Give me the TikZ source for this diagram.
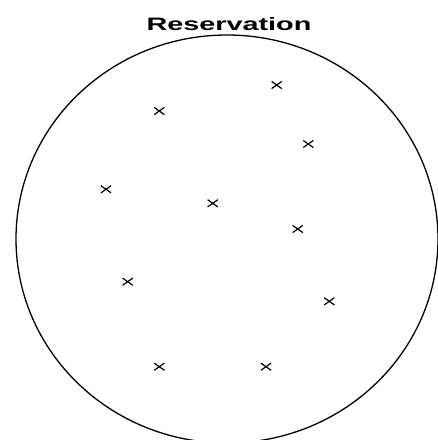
\documentclass[tikz,border=0pt]{standalone}
\usepackage{fontspec}
\usepackage{graphicx}
\setmainfont{Liberation Sans}
\usetikzlibrary{shapes.misc}
\tikzset{
  mark x/.style={cross out, draw=black, line width=1.2pt, minimum width=9pt, minimum height=6pt, inner sep=0pt},
  ring/.style={draw=black, line width=1.3pt},
  title/.style={font=\fontsize{18pt}{20pt}\selectfont\bfseries, inner sep=0pt, anchor=base}
}
\begin{document}
\begin{tikzpicture}[x=1pt,y=-1pt]
\useasboundingbox (0,0) rectangle (438,440);
\clip (0,0) rectangle (438,440);
\fill[white] (0,0) rectangle (438,440);
\node[title] (t) at (229,30) {\scalebox{1.6}[1]{Reservation}};
\draw[ring] (227,239) ellipse [x radius=211, y radius=204];
\node[mark x] (m1) at (276.7,85) {};
\node[mark x] (m2) at (159.3,111) {};
\node[mark x] (m3) at (308.3,144) {};
\node[mark x] (m4) at (106,189.3) {};
\node[mark x] (m5) at (212.7,203.3) {};
\node[mark x] (m6) at (297.7,229) {};
\node[mark x] (m7) at (127.7,281.7) {};
\node[mark x] (m8) at (329.3,301.3) {};
\node[mark x] (m9) at (159.3,366.7) {};
\node[mark x] (m10) at (266,366.7) {};
\end{tikzpicture}
\end{document}
